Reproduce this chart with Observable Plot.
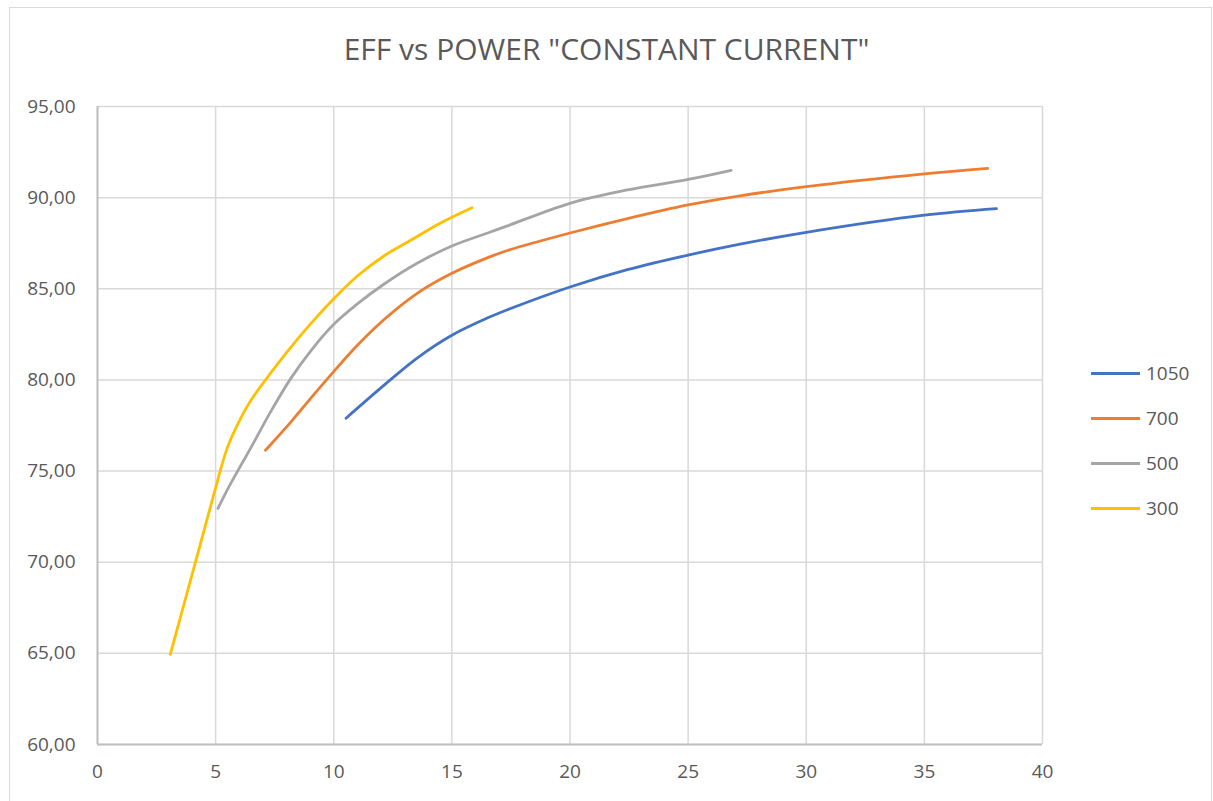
<!DOCTYPE html>
<html>
<head>
<meta charset="utf-8">
<script src="https://cdn.jsdelivr.net/npm/d3@7"></script>
<script src="https://cdn.jsdelivr.net/npm/@observablehq/plot@0.6"></script>
<style>
  html, body { margin: 0; padding: 0; background: #fff; width: 1213px; height: 801px; overflow: hidden; }
  #frame { position: absolute; left: 9px; top: 7px; width: 1203px; height: 820px; border: 1.5px solid #d9d9d9; box-sizing: border-box; }
  #title { position: absolute; left: 0; width: 1213px; top: 29px; text-align: center; font-family: "Open Sans", sans-serif; font-size: 30px; color: #595959; line-height: 1.362; white-space: nowrap; }
  #chart { position: absolute; left: 0; top: 0; }
  .leg { position: absolute; left: 1091px; font-family: "Open Sans", sans-serif; font-size: 19px; color: #595959; display: flex; align-items: center; height: 24px; }
  .leg span.sw { display: inline-block; width: 49px; height: 3px; margin-right: 6px; }
</style>
</head>
<body>
<div id="frame"></div>
<div id="title">EFF vs POWER "CONSTANT CURRENT"</div>
<div id="chart"></div>
<div id="legend"></div>
<script>
// Series names, colours
const seriesNames = ["1050", "700", "500", "300"];
const seriesColors = ["#4472C4", "#ED7D31", "#A5A5A5", "#FFC000"];

// 1050 mA
const s1050_x = [10.52, 12.12, 13.53, 15.0, 16.6, 17.35, 20.0, 22.43, 25.0, 27.2, 30.0, 35.0, 38.05];
const s1050_y = [77.9, 79.7, 81.2, 82.45, 83.45, 83.85, 85.1, 86.05, 86.85, 87.45, 88.1, 89.04, 89.4];

// 700 mA
const s700_x = [7.11, 8.19, 9.03, 9.96, 11.0, 12.12, 13.53, 15.0, 16.6, 17.35, 20.0, 22.43, 25.0, 27.2, 30.0, 35.0, 37.68];
const s700_y = [76.14, 77.7, 79.0, 80.4, 81.9, 83.3, 84.75, 85.85, 86.75, 87.1, 88.06, 88.85, 89.6, 90.1, 90.6, 91.3, 91.6];

// 500 mA
const s500_x = [5.1, 5.59, 6.5, 7.35, 8.19, 9.03, 9.96, 11.0, 12.12, 13.53, 15.0, 16.6, 17.35, 20.0, 22.43, 25.0, 26.82];
const s500_y = [72.95, 74.2, 76.3, 78.3, 80.1, 81.6, 83.0, 84.17, 85.25, 86.4, 87.35, 88.1, 88.45, 89.69, 90.42, 91.0, 91.5];

// 300 mA
const s300_x = [3.08, 4.0, 4.96, 5.5, 6.08, 6.5, 7.14, 8.0, 9.0, 10.0, 11.0, 12.12, 13.24, 14.5, 15.85];
const s300_y = [64.95, 69.3, 73.9, 76.3, 77.95, 78.9, 80.05, 81.5, 83.05, 84.45, 85.7, 86.8, 87.65, 88.6, 89.45];

// Axis ticks
const xTicks = [0, 5, 10, 15, 20, 25, 30, 35, 40];
const yTicks = [60, 65, 70, 75, 80, 85, 90, 95];

const seriesX = {"1050": s1050_x, "700": s700_x, "500": s500_x, "300": s300_x};
const seriesY = {"1050": s1050_y, "700": s700_y, "500": s500_y, "300": s300_y};

const data = [];
for (const name of seriesNames) {
  seriesX[name].forEach((x, i) => data.push({series: name, x, y: seriesY[name][i]}));
}

const fmtY = d => d.toFixed(2).replace(".", ",");

const chart = Plot.plot({
  width: 1213,
  height: 801,
  marginLeft: 97,
  marginRight: 171,
  marginTop: 106,
  marginBottom: 57,
  style: {fontFamily: "'Open Sans', sans-serif", fontSize: "19px", color: "#595959", background: "transparent"},
  x: {domain: [0, 40], ticks: xTicks, label: null},
  y: {domain: [60, 95], ticks: yTicks, label: null, tickFormat: fmtY},
  color: {domain: seriesNames, range: seriesColors},
  marks: [
    Plot.gridX(xTicks, {stroke: "#d9d9d9", strokeOpacity: 1, strokeWidth: 1.5}),
    Plot.gridY(yTicks, {stroke: "#d9d9d9", strokeOpacity: 1, strokeWidth: 1.5}),
    Plot.ruleX([0], {stroke: "#bfbfbf", strokeWidth: 2}),
    Plot.ruleY([60], {stroke: "#bfbfbf", strokeWidth: 2}),
    Plot.axisX(xTicks, {tickSize: 0, tickPadding: 20, fill: "#595959", label: null}),
    Plot.axisY(yTicks, {tickSize: 0, tickPadding: 22, fill: "#595959", label: null, tickFormat: fmtY}),
    Plot.line(data, {x: "x", y: "y", z: "series", stroke: "series", strokeWidth: 2.8, curve: "catmull-rom"})
  ]
});
document.getElementById("chart").appendChild(chart);

// Legend
const legTops = [361, 406, 451, 496];
const legend = document.getElementById("legend");
seriesNames.forEach((name, i) => {
  const d = document.createElement("div");
  d.className = "leg";
  d.style.top = legTops[i] + "px";
  d.innerHTML = `<span class="sw" style="background:${seriesColors[i]}"></span>${name}`;
  legend.appendChild(d);
});
</script>
</body>
</html>
